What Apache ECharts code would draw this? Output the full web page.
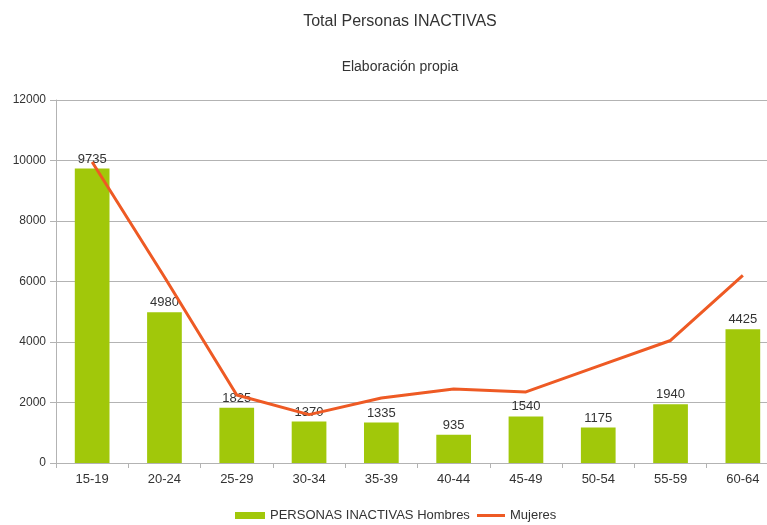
<!DOCTYPE html>
<html>
<head>
<meta charset="utf-8">
<script src="https://cdn.jsdelivr.net/npm/echarts@6/dist/echarts.min.js"></script>
<style>
html, body { margin: 0; padding: 0; background: #fff; }
#main { width: 767px; height: 525px; }
</style>
</head>
<body>
<div id="main"></div>
<script>
var ageGroups = ['15-19', '20-24', '25-29', '30-34', '35-39', '40-44', '45-49', '50-54', '55-59', '60-64'];
var hombres = [9735, 4980, 1825, 1370, 1335, 935, 1540, 1175, 1940, 4425];
var mujeres = [9950, 6150, 2250, 1600, 2150, 2450, 2350, 3200, 4050, 6200];

var chart = echarts.init(document.getElementById('main'));
var fontName = 'Liberation Sans';
var txt = '#333';

var option = {
  backgroundColor: '#fff',
  animation: false,
  title: [{
    text: 'Total Personas INACTIVAS',
    left: 395,
    top: 9,
    textAlign: 'center',
    textStyle: { fontFamily: fontName, fontSize: 16, fontWeight: 'normal', color: txt }
  }, {
    text: 'Elaboración propia',
    left: 395,
    top: 55,
    textAlign: 'center',
    textStyle: { fontFamily: fontName, fontSize: 14, fontWeight: 'normal', color: txt }
  }],
  legend: [{
    left: 230,
    top: 504,
    itemWidth: 30,
    itemHeight: 7,
    textStyle: { fontFamily: fontName, fontSize: 13, color: txt },
    data: [{ name: 'PERSONAS INACTIVAS Hombres', icon: 'rect' }]
  }, {
    left: 472,
    top: 504,
    itemWidth: 28,
    itemHeight: 3,
    textStyle: { fontFamily: fontName, fontSize: 13, color: txt },
    data: [{ name: 'Mujeres', icon: 'rect' }]
  }],
  grid: {
    left: 56,
    width: 723,
    top: 100,
    bottom: 62,
    outerBoundsMode: 'none'
  },
  xAxis: {
    type: 'category',
    data: ageGroups,
    axisLine: { lineStyle: { color: '#b3b3b3' } },
    axisTick: { show: true, length: 5, lineStyle: { color: '#b3b3b3' } },
    axisLabel: { fontFamily: fontName, fontSize: 13, color: txt, margin: 10 }
  },
  yAxis: {
    type: 'value',
    min: 0,
    max: 12000,
    interval: 2000,
    axisLine: { show: true, lineStyle: { color: '#b3b3b3' } },
    axisTick: { show: true, length: 6, lineStyle: { color: '#b3b3b3' } },
    axisLabel: {
      fontFamily: fontName, fontSize: 12, color: txt, margin: 10,
      formatter: function (v) { return String(v); }
    },
    splitLine: { lineStyle: { color: '#b3b3b3' } }
  },
  series: [{
    name: 'PERSONAS INACTIVAS Hombres',
    type: 'bar',
    data: hombres,
    barWidth: '48%',
    itemStyle: { color: '#a1c80a' },
    label: {
      show: true,
      position: 'top',
      distance: 3,
      fontFamily: fontName,
      fontSize: 13,
      color: txt
    }
  }, {
    name: 'Mujeres',
    type: 'line',
    data: mujeres,
    symbol: 'none',
    lineStyle: { color: '#ee5a24', width: 3 },
    itemStyle: { color: '#ee5a24' }
  }]
};

chart.setOption(option);
</script>
</body>
</html>
